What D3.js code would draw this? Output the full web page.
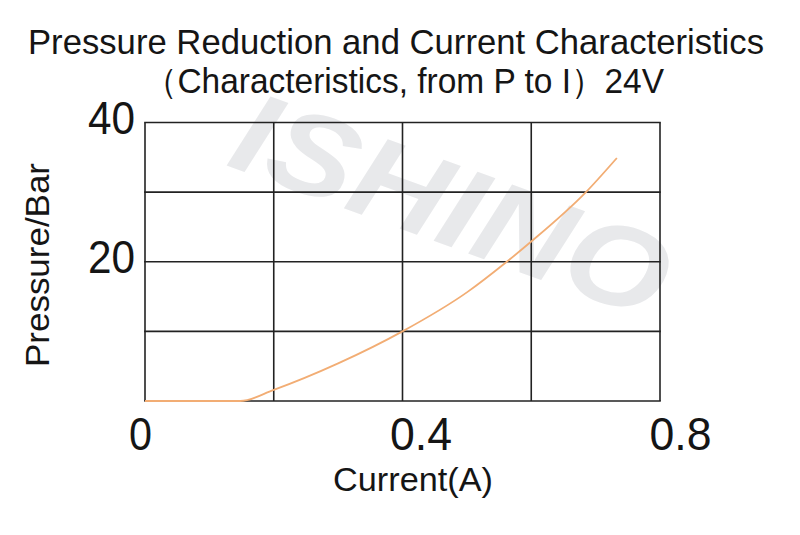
<!DOCTYPE html>
<html>
<head>
<meta charset="utf-8">
<script src="https://cdn.jsdelivr.net/npm/d3@7"></script>
<style>
  html, body { margin: 0; padding: 0; background: #fff; }
  svg { display: block; }
  text { font-family: 'Liberation Sans', Arial, sans-serif; fill: #151515; }
</style>
</head>
<body>
<svg id="chart" width="800" height="535"></svg>
<script>
// data
const currentA = [0, 0.148, 0.2, 0.3, 0.4, 0.5, 0.562, 0.6, 0.685, 0.733];
const pressureBar = [0, 0, 1.6, 5.4, 10, 15.6, 20, 22.9, 30, 34.9];
const xGrid = [0, 0.2, 0.4, 0.6, 0.8];
const yGrid = [0, 10, 20, 30, 40];
const xTickLabels = [0, 0.4, 0.8];
const yTickLabels = [20, 40];

const svg = d3.select('#chart');

const x = d3.scaleLinear().domain([0, 0.8]).range([145, 660]);
const y = d3.scaleLinear().domain([0, 40]).range([401, 122.5]);

// watermark
svg.append('text')
  .attr('transform', 'translate(452,205) rotate(20)')
  .attr('text-anchor', 'middle')
  .attr('dominant-baseline', 'central')
  .attr('font-size', 116).attr('font-weight', 700).attr('font-style', 'italic')
  .attr('textLength', 455).attr('lengthAdjust', 'spacingAndGlyphs')
  .style('fill', '#e8e9eb')
  .text('ISHINO');

// titles
svg.append('text')
  .attr('x', 396).attr('y', 54).attr('text-anchor', 'middle')
  .attr('font-size', 35).attr('textLength', 736).attr('lengthAdjust', 'spacingAndGlyphs')
  .text('Pressure Reduction and Current Characteristics');
svg.append('text')
  .attr('x', 404).attr('y', 93).attr('text-anchor', 'middle')
  .attr('font-size', 35).attr('textLength', 520).attr('lengthAdjust', 'spacingAndGlyphs')
  .text('（Characteristics, from P to I）24V');

// grid
const grid = svg.append('g').attr('stroke', '#222').attr('stroke-width', 1.6);
grid.selectAll('line.v').data(xGrid).join('line').attr('class', 'v')
  .attr('x1', d => x(d)).attr('x2', d => x(d))
  .attr('y1', y(0)).attr('y2', y(40));
grid.selectAll('line.h').data(yGrid).join('line').attr('class', 'h')
  .attr('x1', x(0) - 0.8).attr('x2', x(0.8) + 0.8)
  .attr('y1', d => y(d)).attr('y2', d => y(d));

// axes (labels only)
const labelShift = [-5, 18, 20];
const xAxis = svg.append('g')
  .attr('transform', `translate(0,${y(0)})`)
  .call(d3.axisBottom(x).tickValues(xTickLabels).tickSize(0).tickPadding(0).tickFormat(d3.format('')));
xAxis.select('.domain').remove();
xAxis.selectAll('text')
  .attr('y', 49).attr('dy', null)
  .attr('dx', (d, i) => labelShift[i])
  .attr('font-size', 47).attr('font-family', null)
  .attr('textLength', d => d === 0 ? 23 : 62).attr('lengthAdjust', 'spacingAndGlyphs')
  .style('fill', '#151515');

const yAxis = svg.append('g')
  .attr('transform', `translate(135,0)`)
  .call(d3.axisLeft(y).tickValues(yTickLabels).tickSize(0).tickPadding(0));
yAxis.select('.domain').remove();
yAxis.selectAll('text')
  .attr('x', 0).attr('dy', null).attr('y', 11)
  .attr('font-size', 47).attr('font-family', null)
  .attr('textLength', 47).attr('lengthAdjust', 'spacingAndGlyphs')
  .style('fill', '#151515');

// axis titles
svg.append('text')
  .attr('x', 413).attr('y', 491).attr('text-anchor', 'middle')
  .attr('font-size', 34).attr('textLength', 160).attr('lengthAdjust', 'spacingAndGlyphs')
  .text('Current(A)');
svg.append('text')
  .attr('transform', 'translate(49,265) rotate(-90)')
  .attr('text-anchor', 'middle')
  .attr('font-size', 33).attr('textLength', 204).attr('lengthAdjust', 'spacingAndGlyphs')
  .text('Pressure/Bar');

// curve
const pts = currentA.map((c, i) => [c, pressureBar[i]]);
svg.append('path')
  .datum(pts)
  .attr('fill', 'none')
  .attr('stroke', '#f2ad74')
  .attr('stroke-width', 1.8)
  .attr('d', d3.line().x(d => x(d[0])).y(d => y(d[1])).curve(d3.curveMonotoneX));
</script>
</body>
</html>
